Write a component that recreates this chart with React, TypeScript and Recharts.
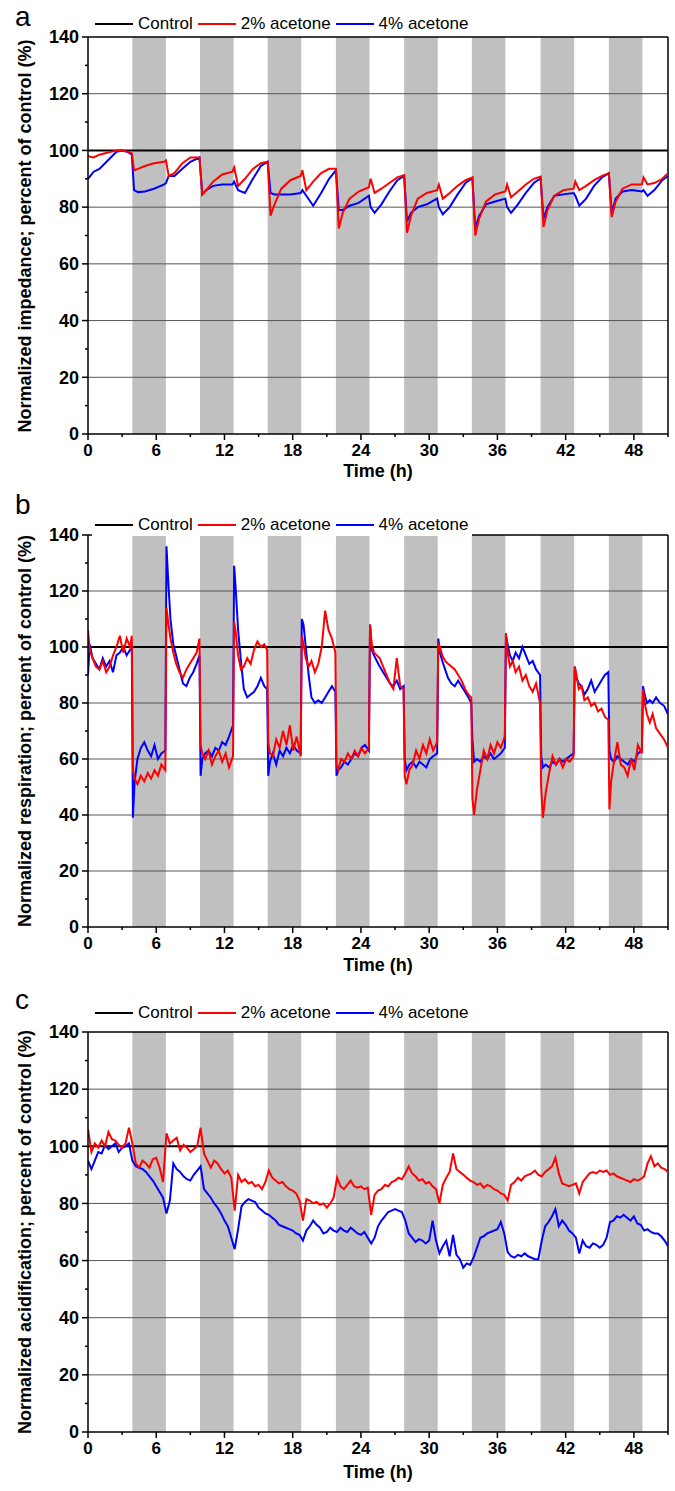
import React from 'react';
import { LineChart, Line, XAxis, YAxis, ReferenceArea, ReferenceLine, Legend } from 'recharts';

const FONT = '"Liberation Sans", Arial, Helvetica, sans-serif';

// shaded periods (h)
const bandStart = [3.9, 9.85, 15.8, 21.8, 27.8, 33.75, 39.8, 45.8];
const bandEnd = [6.85, 12.8, 18.75, 24.75, 30.75, 36.7, 42.75, 48.75];

const xTicks = [0, 3, 6, 9, 12, 15, 18, 21, 24, 27, 30, 33, 36, 39, 42, 45, 48, 51];
const yTicks = [0, 10, 20, 30, 40, 50, 60, 70, 80, 90, 100, 110, 120, 130, 140];
const gridLevels = [20, 40, 60, 80, 120];
const legendOrder = ['Control', '2% acetone', '4% acetone'];

const controlTime = [0, 51];
const controlPct = [100, 100];

// a: impedance
const timeA = [0, 0.5, 1, 1.5, 2, 2.5, 3, 3.5, 3.85,
  4.05, 4.4, 5, 5.8, 6.7, 6.85, 7.1, 7.6, 8.3, 9, 9.8,
  10.05, 10.4, 11, 11.8, 12.7, 12.85, 13.2, 13.8, 14.5, 15.2, 15.8,
  16.05, 16.4, 17, 17.8, 18.7, 18.85, 19.2, 19.8, 20.5, 21.2, 21.8,
  22.05, 22.4, 23, 23.8, 24.7, 24.85, 25.2, 25.8, 26.5, 27.2, 27.8,
  28.05, 28.4, 29, 29.8, 30.7, 30.85, 31.2, 31.8, 32.5, 33.2, 33.8,
  34.05, 34.4, 35, 35.8, 36.7, 36.85, 37.2, 37.8, 38.5, 39.2, 39.8,
  40.05, 40.4, 41, 41.8, 42.7, 42.85, 43.2, 43.8, 44.5, 45.2, 45.8,
  46.05, 46.4, 47, 47.8, 48.7, 48.85, 49.2, 49.8, 50.5, 51];
const impedance2 = [98, 97.5, 98.5, 99, 99.5, 100, 100, 99.5, 99,
  93, 93.5, 94.5, 95.5, 96, 96.5, 91, 92, 95.5, 97.5, 97.5,
  84.5, 86, 89, 91.5, 92.5, 94, 87.5, 90, 93.5, 95.5, 96,
  77, 81, 86.5, 89.5, 91, 93, 86, 89, 92, 93.5, 93.5,
  72.5, 78, 83, 85.5, 87, 90, 85, 86.5, 88.5, 90.5, 91.3,
  71, 77, 83, 85, 86, 88, 83, 85, 87.5, 89.5, 90.5,
  70, 76, 82, 84.5, 85.5, 88, 83.5, 85.5, 88, 90, 90.8,
  73, 79, 84, 86, 86.5, 89, 86, 87.5, 89.5, 91, 92,
  76.5, 82, 86.5, 88, 88, 90.5, 88, 88.5, 90, 92];
const impedance4 = [90, 92.5, 93.5, 95.5, 97.5, 99.5, 100, 99.5, 98.5,
  86, 85.3, 85.5, 86.5, 88, 88.5, 91, 91, 93.5, 96, 97.5,
  84.5, 86, 87.5, 88, 88, 89, 86, 85, 90, 94.5, 96,
  85, 84.5, 84.5, 84.5, 85, 86, 84, 80.5, 85, 90, 93,
  79, 79, 80.5, 81.5, 84, 80, 78, 81, 85.5, 89.5, 91,
  75, 78, 80, 81, 83, 80, 77.5, 80, 84.5, 88.5, 90.3,
  72.5, 77, 81, 82, 83, 80, 78, 81, 85, 88.5, 90.2,
  76, 80, 84, 84.5, 85, 84, 80.5, 83, 87.5, 90.5, 92,
  78, 83, 85.5, 86, 85.5, 86, 84, 86, 89.5, 91];

// b: respiration
const timeB = [0, 0.15, 0.4, 0.7, 1, 1.3, 1.6, 1.9, 2.2, 2.5, 2.8, 3.1, 3.4, 3.7, 3.85,
  3.95, 4.1, 4.35, 4.65, 4.95, 5.25, 5.55, 5.85, 6.15, 6.45, 6.8,
  6.9, 7.05, 7.25, 7.5, 7.75, 8.05, 8.35, 8.65, 8.95, 9.25, 9.55, 9.8,
  9.9, 10.05, 10.3, 10.6, 10.9, 11.2, 11.5, 11.8, 12.1, 12.4, 12.75,
  12.85, 13, 13.2, 13.45, 13.7, 14, 14.3, 14.6, 14.9, 15.2, 15.5, 15.75,
  15.85, 16, 16.25, 16.55, 16.85, 17.15, 17.45, 17.75, 18.05, 18.35, 18.7,
  18.8, 18.95, 19.15, 19.4, 19.65, 19.95, 20.25, 20.55, 20.85, 21.15, 21.45, 21.75,
  21.85, 22, 22.25, 22.55, 22.85, 23.15, 23.45, 23.75, 24.05, 24.35, 24.7,
  24.8, 24.95, 25.15, 25.4, 25.65, 25.95, 26.25, 26.55, 26.85, 27.15, 27.45, 27.75,
  27.85, 28, 28.25, 28.55, 28.85, 29.15, 29.45, 29.75, 30.05, 30.35, 30.7,
  30.8, 30.95, 31.15, 31.4, 31.65, 31.95, 32.25, 32.55, 32.85, 33.15, 33.45, 33.7,
  33.8, 33.95, 34.2, 34.5, 34.8, 35.1, 35.4, 35.7, 36, 36.3, 36.65,
  36.75, 36.9, 37.1, 37.35, 37.6, 37.9, 38.2, 38.5, 38.8, 39.1, 39.4, 39.75,
  39.85, 40, 40.25, 40.55, 40.85, 41.15, 41.45, 41.75, 42.05, 42.35, 42.7,
  42.8, 42.95, 43.15, 43.4, 43.65, 43.95, 44.25, 44.55, 44.85, 45.15, 45.45, 45.75,
  45.85, 46, 46.25, 46.55, 46.85, 47.15, 47.45, 47.75, 48.05, 48.35, 48.7,
  48.8, 48.95, 49.15, 49.4, 49.65, 49.95, 50.3, 50.65, 51];
const respiration2 = [106, 99, 96, 93, 92, 95, 91, 93, 97, 100, 104, 98, 103, 100, 104,
  56, 53, 51, 54, 52, 55, 53, 56, 54, 58, 56,
  114, 109, 103, 98, 94, 91, 89, 92, 94, 96, 98, 103,
  65, 62, 60, 63, 58, 61, 63, 59, 62, 57, 61,
  109, 105, 97, 92, 93, 96, 94, 99, 102, 100, 101, 99,
  66, 62, 61, 67, 64, 70, 65, 72, 63, 68, 61,
  104, 101, 96, 93, 95, 91, 94, 100, 113, 106, 103, 98,
  58, 56, 60, 59, 62, 60, 63, 61, 64, 62, 64,
  108, 101, 98, 97, 96, 93, 90, 87, 85, 96, 86, 85,
  54, 51, 56, 58, 63, 60, 65, 62, 67, 63, 66,
  101, 100, 97, 95, 94, 93, 92, 90, 88, 85, 83, 82,
  46, 40, 49, 56, 63, 60, 65, 62, 66, 64, 68,
  105, 98, 93, 95, 91, 93, 88, 90, 86, 84, 87, 80,
  50, 39, 48, 55, 61, 58, 60, 57, 60, 59, 61,
  93, 90, 85, 86, 81, 82, 79, 80, 77, 78, 75, 74,
  42, 52, 59, 66, 58, 57, 54, 60, 56, 65, 62,
  85, 80, 76, 73, 76, 71, 69, 67, 64];
const respiration4 = [90, 101, 96, 94, 92, 96, 93, 95, 91, 97, 98, 100, 97, 99, 100,
  39, 52, 60, 64, 66, 63, 61, 65, 60, 62, 63,
  136, 124, 110, 101, 97, 92, 87, 86, 89, 91, 94, 97,
  54, 60, 62, 63, 61, 64, 63, 66, 65, 68, 72,
  129, 120, 106, 95, 85, 82, 83, 84, 86, 89, 86, 85,
  54, 59, 62, 58, 63, 61, 64, 62, 65, 63, 62,
  110, 108, 100, 90, 82, 80, 81, 80, 82, 84, 86, 84,
  54, 56, 57, 59, 58, 60, 62, 61, 64, 65, 63,
  108, 99, 97, 95, 93, 91, 89, 87, 86, 88, 85, 86,
  60, 56, 58, 59, 57, 59, 58, 57, 60, 61, 62,
  103, 98, 95, 92, 89, 87, 86, 88, 86, 84, 82, 80,
  67, 59, 60, 59, 61, 60, 62, 60, 61, 62, 64,
  104, 101, 97, 95, 98, 96, 100, 97, 94, 95, 92, 90,
  61, 57, 58, 57, 59, 58, 60, 59, 60, 61, 62,
  93, 89, 87, 86, 83, 85, 88, 84, 86, 88, 90, 91,
  63, 60, 59, 61, 60, 59, 58, 60, 59, 62, 63,
  86, 83, 80, 81, 80, 82, 80, 79, 76];

// c: acidification
const timeC = [0, 0.3, 0.6, 0.9, 1.2, 1.5, 1.8, 2.1, 2.4, 2.7,
  3, 3.3, 3.6, 3.9, 4.2, 4.5, 4.8, 5.1, 5.4, 5.7,
  6, 6.3, 6.6, 6.9, 7.2, 7.5, 7.8, 8.1, 8.4, 8.7,
  9, 9.3, 9.6, 9.9, 10.2, 10.5, 10.8, 11.1, 11.4, 11.7,
  12, 12.3, 12.6, 12.9, 13.2, 13.5, 13.8, 14.1, 14.4, 14.7,
  15, 15.3, 15.6, 15.9, 16.2, 16.5, 16.8, 17.1, 17.4, 17.7,
  18, 18.3, 18.6, 18.9, 19.2, 19.5, 19.8, 20.1, 20.4, 20.7,
  21, 21.3, 21.6, 21.9, 22.2, 22.5, 22.8, 23.1, 23.4, 23.7,
  24, 24.3, 24.6, 24.9, 25.2, 25.5, 25.8, 26.1, 26.4, 26.7,
  27, 27.3, 27.6, 27.9, 28.2, 28.5, 28.8, 29.1, 29.4, 29.7,
  30, 30.3, 30.6, 30.9, 31.2, 31.5, 31.8, 32.1, 32.4, 32.7,
  33, 33.3, 33.6, 33.9, 34.2, 34.5, 34.8, 35.1, 35.4, 35.7,
  36, 36.3, 36.6, 36.9, 37.2, 37.5, 37.8, 38.1, 38.4, 38.7,
  39, 39.3, 39.6, 39.9, 40.2, 40.5, 40.8, 41.1, 41.4, 41.7,
  42, 42.3, 42.6, 42.9, 43.2, 43.5, 43.8, 44.1, 44.4, 44.7,
  45, 45.3, 45.6, 45.9, 46.2, 46.5, 46.8, 47.1, 47.4, 47.7,
  48, 48.3, 48.6, 48.9, 49.2, 49.5, 49.8, 50.1, 50.4, 50.7,
  51];
const acidification2 = [106, 98, 101, 99.5, 102, 100, 105, 102.5, 102, 100.5,
  99.5, 101, 106.5, 101, 94, 92.5, 95, 94, 92.5, 95.5,
  96, 92.5, 87.5, 104.5, 101, 102, 103, 98.5, 100.5, 99.5,
  98, 99, 100, 106.5, 97.5, 95, 92.5, 95, 94, 92,
  90.5, 91.5, 89, 77.5, 90, 87.5, 88.5, 87, 87.5, 86,
  86.5, 85, 87.5, 91.5, 89, 88, 87, 87.5, 86, 85,
  84.5, 83.5, 81, 74, 81.5, 81, 80, 80.5, 79.5, 80,
  78.5, 80, 82, 89, 86, 85, 86.5, 88, 86, 85.5,
  86, 85, 85.5, 76, 83, 84.5, 85, 86.5, 86, 87.5,
  88, 89, 88.5, 90.5, 93, 90.5, 89.5, 88, 88.5, 87,
  87.5, 86, 85, 80, 86.5, 89, 91, 97.5, 92, 91,
  90, 89, 88, 87.5, 86.5, 87, 85.5, 86.5, 86, 85,
  84.5, 83.5, 83, 81, 86.5, 87.5, 89, 88, 89.5, 90,
  90.5, 91.5, 90, 89.5, 91, 92, 93, 96, 90.5, 87,
  86.5, 86, 86.5, 87, 83.5, 87.5, 89, 90.5, 91, 90.5,
  91.5, 91, 91.5, 90, 90.5, 89.5, 89, 88.5, 88, 87.5,
  88.5, 88, 88.5, 89.5, 94, 96.5, 93, 94, 92.5, 92,
  91];
const acidification4 = [95, 92, 95, 98, 97.5, 100.5, 99, 100, 101, 98,
  99.5, 100, 101, 95, 93, 92.5, 92, 91, 89.5, 88,
  86, 84, 82, 76.5, 81, 94, 92, 91, 89.5, 88.5,
  88, 90, 91.5, 93, 85, 83.5, 82, 80, 78.5, 76.5,
  74, 72, 68, 64, 71, 79, 80.5, 81.5, 81, 80.5,
  78.5, 77.5, 76.5, 76, 75, 74, 72.5, 72, 71.5, 71,
  70.5, 69.5, 69, 67, 70.5, 72, 74, 72.5, 71.5, 69.5,
  70, 71.5, 70.5, 70, 71.5, 70.5, 70, 71.5, 70.5, 69.5,
  69, 70, 68, 66, 68, 72, 74, 75.5, 77, 77.5,
  78, 77.5, 77, 74, 69.5, 68, 66.5, 67.5, 67, 66,
  67, 74, 67, 62.5, 65, 67, 61.5, 69, 62, 60.5,
  57.5, 59, 58.5, 61, 64.5, 68, 68.5, 69.5, 70, 70.5,
  71, 73.5, 69.5, 63, 61.5, 61, 62, 61.5, 62.5, 61.5,
  61, 60.5, 60.5, 67, 72, 73.5, 75.5, 78, 72, 74,
  72.5, 70.5, 69.5, 68, 62.5, 67, 65, 64.5, 66, 65.5,
  64.5, 65.5, 68, 73.5, 74, 75.5, 75, 76, 75, 74,
  75.5, 73, 72.5, 70.5, 71, 70, 69.5, 69.5, 68.5, 67,
  65];

const renderXTick = (props: any) => {
  const { x, y, payload } = props;
  const major = payload.value % 6 === 0;
  return (
    <g>
      <line x1={x} x2={x} y1={y} y2={y + (major ? 6 : 3)} stroke="#000" strokeWidth={1.5} />
      {major && (
        <text x={x} y={y + 22} textAnchor="middle" fontFamily={FONT} fontWeight="bold" fontSize={17} fill="#000">
          {payload.value}
        </text>
      )}
    </g>
  );
};

const renderYTick = (props: any) => {
  const { x, y, payload } = props;
  const major = payload.value % 20 === 0;
  return (
    <g>
      <line x1={x - (major ? 6 : 3)} x2={x} y1={y} y2={y} stroke="#000" strokeWidth={1.5} />
      {major && (
        <text x={x - 9} y={y} dy="0.35em" textAnchor="end" fontFamily={FONT} fontWeight="bold" fontSize={18} fill="#000">
          {payload.value}
        </text>
      )}
    </g>
  );
};

function LegendBox({ payload, white }: any) {
  const items = legendOrder
    .map((name) => (payload || []).find((p: any) => p.value === name))
    .filter(Boolean);
  return (
    <div style={{
      display: 'flex', alignItems: 'center', height: 22, fontFamily: FONT, fontSize: 17,
      color: '#000', background: white ? '#fff' : 'transparent', paddingRight: 4, whiteSpace: 'nowrap',
    }}>
      {items.map((p: any, i: number) => (
        <span key={p.value} style={{ display: 'flex', alignItems: 'center', marginLeft: i ? 5 : 3 }}>
          <span style={{ display: 'inline-block', width: 38, height: 2, background: p.color, marginRight: 5 }} />
          {p.value}
        </span>
      ))}
    </div>
  );
}

type PanelProps = {
  top: number;
  height: number;
  plotTop: number;
  plotBottom: number;
  letter: string;
  letterY: number;
  legendY: number;
  legendWhite?: boolean;
  timeY: number;
  title: string;
  time: number[];
  acetone2: number[];
  acetone4: number[];
};

function Panel(p: PanelProps) {
  const control = controlTime.map((t, i) => ({ t, v: controlPct[i] }));
  const red = p.time.map((t, i) => ({ t, v: p.acetone2[i] }));
  const blue = p.time.map((t, i) => ({ t, v: p.acetone4[i] }));
  const axisH = p.top + p.height - p.plotBottom;
  const titleY = (p.plotTop + p.plotBottom) / 2;

  return (
    <>
      <div style={{ position: 'absolute', left: 0, top: p.top }}>
        <LineChart width={675} height={p.height} margin={{ top: p.plotTop - p.top, right: 7, bottom: 0, left: 0 }}>
          <XAxis
            type="number"
            dataKey="t"
            domain={[0, 51]}
            ticks={xTicks}
            interval={0}
            tick={renderXTick}
            tickLine={false}
            tickSize={0}
            tickMargin={0}
            height={axisH}
            axisLine={{ stroke: '#000', strokeWidth: 1.5 }}
            allowDataOverflow
          />
          <YAxis
            type="number"
            domain={[0, 140]}
            ticks={yTicks}
            interval={0}
            tick={renderYTick}
            tickLine={false}
            tickSize={0}
            tickMargin={0}
            width={88}
            axisLine={{ stroke: '#000', strokeWidth: 1.5 }}
            allowDataOverflow
          />
          {bandStart.map((s, i) => (
            <ReferenceArea key={s} x1={s} x2={bandEnd[i]} y1={0} y2={140} fill="#c0c0c0" fillOpacity={1} stroke="none" />
          ))}
          {gridLevels.map((g) => (
            <ReferenceLine key={g} y={g} stroke="#555" strokeWidth={1} />
          ))}
          <ReferenceLine y={140} stroke="#000" strokeWidth={1.5} />
          <ReferenceLine x={51} stroke="#000" strokeWidth={1.5} />
          <Line data={control} dataKey="v" name="Control" stroke="#000" strokeWidth={2} dot={false} isAnimationActive={false} />
          <Line data={blue} dataKey="v" name="4% acetone" stroke="#0000ff" strokeWidth={2} dot={false} isAnimationActive={false} />
          <Line data={red} dataKey="v" name="2% acetone" stroke="#ff0000" strokeWidth={2} dot={false} isAnimationActive={false} />
          <Legend
            layout="horizontal"
            verticalAlign="middle"
            align="center"
            content={(props: any) => <LegendBox {...props} white={p.legendWhite} />}
            wrapperStyle={{ left: 92, top: p.legendY - p.top - 11, width: 'auto', height: 'auto' }}
          />
        </LineChart>
      </div>
      <div style={{ position: 'absolute', left: 15, top: p.letterY - 26, fontFamily: FONT, fontSize: 28, lineHeight: '30px' }}>
        {p.letter}
      </div>
      <div style={{
        position: 'absolute', left: 25, top: titleY, transform: 'translate(-50%, -50%) rotate(-90deg)',
        whiteSpace: 'nowrap', fontFamily: FONT, fontWeight: 'bold', fontSize: 18, lineHeight: '18px',
      }}>
        {p.title}
      </div>
      <div style={{
        position: 'absolute', left: 378, top: p.timeY, transform: 'translate(-50%, -50%)',
        whiteSpace: 'nowrap', fontFamily: FONT, fontWeight: 'bold', fontSize: 18, lineHeight: '16px',
      }}>
        Time (h)
      </div>
    </>
  );
}

export default function App() {
  return (
    <div style={{ position: 'absolute', left: 0, top: 0, width: 675, height: 1491, background: '#fff' }}>
      <Panel
        top={0} height={494} plotTop={37} plotBottom={434}
        letter="a" letterY={28} legendY={24} timeY={471}
        title="Normalized impedance; percent of control (%)"
        time={timeA} acetone2={impedance2} acetone4={impedance4}
      />
      <Panel
        top={494} height={494} plotTop={535} plotBottom={927}
        letter="b" letterY={516} legendY={525} legendWhite timeY={965}
        title="Normalized respiration; percent of control (%)"
        time={timeB} acetone2={respiration2} acetone4={respiration4}
      />
      <Panel
        top={988} height={503} plotTop={1032} plotBottom={1432}
        letter="c" letterY={1011} legendY={1013} timeY={1472}
        title="Normalized acidification; percent of control (%)"
        time={timeC} acetone2={acidification2} acetone4={acidification4}
      />
    </div>
  );
}
